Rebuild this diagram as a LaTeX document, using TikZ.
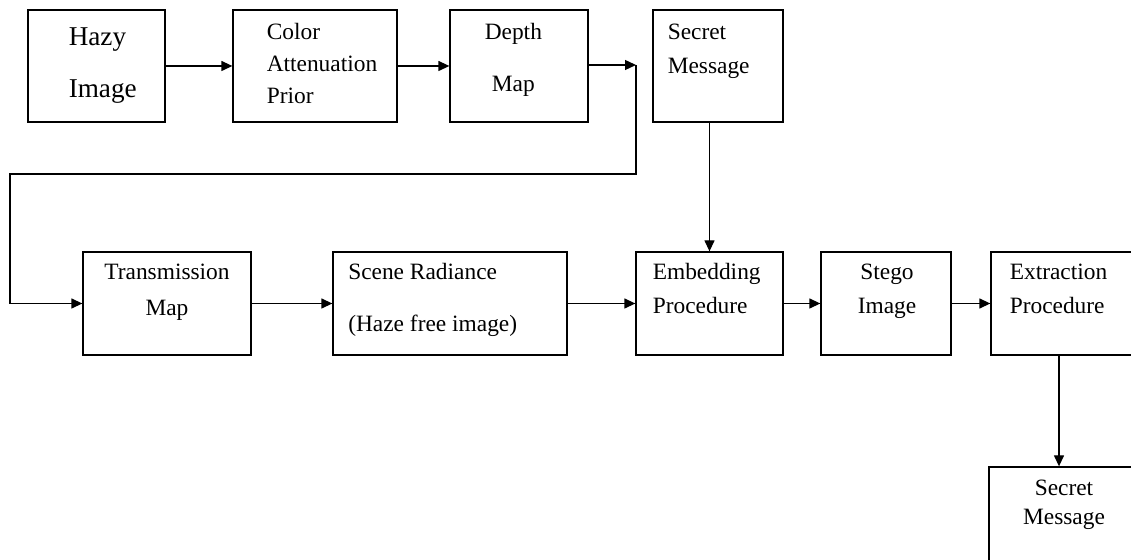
\documentclass[tikz,border=0pt]{standalone}
\usepackage{fontspec}
\setmainfont{Liberation Serif}
\usepackage{tikz}
\usetikzlibrary{arrows.meta, positioning, calc}
\tikzstyle{blk} = [%
  rectangle,
  draw=black,
  line width=0.65pt,
  minimum height=56pt,
  inner sep=0pt
]

\begin{document}
\begin{tikzpicture}[%
  x=0.5pt, y=-0.5pt,
  flow/.style={%
    -{Triangle[length=5.5pt,width=5pt]},
    line width=0.65pt
  },
  lbl/.style={%
    inner sep=0pt,
    font=\fontsize{11.7}{16}\selectfont,
    text=black
  }
]
  \useasboundingbox (0,0) rectangle (1131,560);

  % Blocks, top row
  \node[blk,minimum width=68.5pt] (hazy) at (96.5,66) {};
  \node[blk,minimum width=82pt] (cap) at (315,66) {};
  \node[blk,minimum width=69pt] (depth) at (519,66) {};
  \node[blk,minimum width=65pt] (secret1) at (718,66) {};

  % Blocks, bottom row
  \node[blk,minimum width=84pt,minimum height=51.5pt] (trans) at (167,303.5) {};
  \node[blk,minimum width=117pt,minimum height=51.5pt] (scene) at (450,303.5) {};
  \node[blk,minimum width=73.5pt,minimum height=51.5pt] (embed) at (709.5,303.5) {};
  \node[blk,minimum width=65pt,minimum height=51.5pt] (stego) at (886,303.5) {};
  \node[blk,minimum width=75pt,minimum height=51.5pt] (extract) at (1066,303.5) {};
  \node[blk,minimum width=77pt,minimum height=51.5pt] (secret2) at (1066,518.5) {};

  % Block texts (base anchor sits on the last line)
  \node[lbl,anchor=base west,align=left,font=\fontsize{13.6}{26}\selectfont] (hazy-t) at ($(hazy.north west)+(41,88)$) {Hazy\\Image};
  \node[lbl,anchor=base west,align=left] (cap-t) at ($(cap.north west)+(34,94)$) {Color\\Attenuation\\Prior};
  \node[lbl,anchor=base,align=center,font=\fontsize{11.7}{26}\selectfont] (depth-t) at ($(depth.north west)+(64,82)$) {Depth\\Map};
  \node[lbl,anchor=base west,align=left,font=\fontsize{11.7}{17}\selectfont] (secret1-t) at ($(secret1.north west)+(15,64)$) {Secret\\Message};
  \node[lbl,anchor=base,align=center,font=\fontsize{11.7}{18}\selectfont] (trans-t) at ($(trans.north)+(0,64)$) {Transmission\\Map};
  \node[lbl,anchor=base west,align=left,font=\fontsize{11.7}{26}\selectfont] (scene-t) at ($(scene.north west)+(15.5,80)$) {Scene Radiance\\(Haze free image)};
  \node[lbl,anchor=base west,align=left,font=\fontsize{11.7}{17}\selectfont] (embed-t) at ($(embed.north west)+(17,62)$) {Embedding\\Procedure};
  \node[lbl,anchor=base,align=center,font=\fontsize{11.7}{17}\selectfont] (stego-t) at ($(stego.north)+(1,62)$) {Stego\\Image};
  \node[lbl,anchor=base west,align=left,font=\fontsize{11.7}{17}\selectfont] (extract-t) at ($(extract.north west)+(19,62)$) {Extraction\\Procedure};
  \node[lbl,anchor=base,align=center,font=\fontsize{11.7}{14.5}\selectfont] (secret2-t) at ($(secret2.north)+(-2,58)$) {Secret\\Message};

  % Loop back from the depth map
  \coordinate (turn) at (636,65);
  \coordinate (back) at (10,174);

  % Edges
  \draw[flow] (hazy) -- (cap);
  \draw[flow] (cap) -- (depth);
  \draw[flow] (depth.east |- turn) -- (turn);
  \draw[flow] (turn) |- (back) |- (trans.west);
  \draw[flow] (secret1.south -| embed.north) -- (embed.north);
  \draw[flow] (trans) -- (scene);
  \draw[flow] (scene) -- (embed);
  \draw[flow] (embed) -- (stego);
  \draw[flow] (stego) -- (extract);
  \draw[flow] ([xshift=-3.5pt]extract.south) -- ([xshift=-3.5pt]secret2.north);

\end{tikzpicture}
\end{document}
